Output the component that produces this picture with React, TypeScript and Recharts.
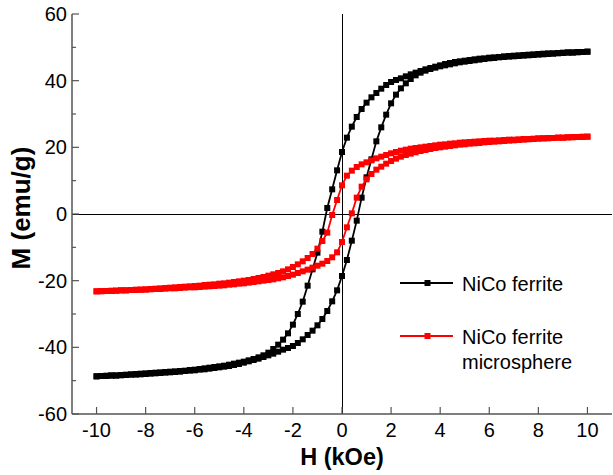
import React from "react";
import { LineChart, Line, XAxis, YAxis, ReferenceLine, Legend } from "recharts";

// applied field, kOe (sweep from +10 down to -10, 0.2 kOe steps)
const fieldDown = [
  10, 9.8, 9.6, 9.4, 9.2, 9, 8.8, 8.6, 8.4, 8.2,
  8, 7.8, 7.6, 7.4, 7.2, 7, 6.8, 6.6, 6.4, 6.2,
  6, 5.8, 5.6, 5.4, 5.2, 5, 4.8, 4.6, 4.4, 4.2,
  4, 3.8, 3.6, 3.4, 3.2, 3, 2.8, 2.6, 2.4, 2.2,
  2, 1.8, 1.6, 1.4, 1.2, 1, 0.8, 0.6, 0.4, 0.2,
  0, -0.2, -0.4, -0.6, -0.8, -1, -1.2, -1.4, -1.6, -1.8,
  -2, -2.2, -2.4, -2.6, -2.8, -3, -3.2, -3.4, -3.6, -3.8,
  -4, -4.2, -4.4, -4.6, -4.8, -5, -5.2, -5.4, -5.6, -5.8,
  -6, -6.2, -6.4, -6.6, -6.8, -7, -7.2, -7.4, -7.6, -7.8,
  -8, -8.2, -8.4, -8.6, -8.8, -9, -9.2, -9.4, -9.6, -9.8,
  -10,
];
// return sweep, -10 back up to +10
const fieldUp = [...fieldDown].reverse();

// NiCo ferrite, M (emu/g)
const ferriteDown = [
  48.7, 48.6, 48.6, 48.5, 48.5, 48.4, 48.3, 48.2, 48.2, 48.1,
  48.0, 47.9, 47.8, 47.7, 47.6, 47.5, 47.4, 47.3, 47.1, 47.0,
  46.9, 46.7, 46.6, 46.4, 46.2, 46.0, 45.8, 45.6, 45.3, 45.0,
  44.6, 44.2, 43.8, 43.4, 42.9, 42.4, 41.9, 41.3, 40.7, 40.2,
  39.6, 38.7, 37.6, 36.3, 35.0, 33.4, 31.5, 29.1, 26.2, 22.9,
  18.6, 13.1, 7.4, 1.8, -5.3, -11.6, -16.6, -21.5, -26.3, -30.0,
  -33.2, -35.8, -37.7, -39.2, -40.5, -41.6, -42.4, -43.0, -43.5, -43.9,
  -44.3, -44.6, -44.9, -45.2, -45.5, -45.7, -45.9, -46.1, -46.3, -46.5,
  -46.7, -46.8, -47.0, -47.1, -47.2, -47.3, -47.4, -47.5, -47.6, -47.7,
  -47.8, -47.9, -48.0, -48.1, -48.2, -48.3, -48.4, -48.4, -48.5, -48.6,
  -48.7,
];
const ferriteUp = [
  -48.7, -48.6, -48.6, -48.5, -48.5, -48.4, -48.3, -48.2, -48.2, -48.1,
  -48.0, -47.9, -47.8, -47.7, -47.6, -47.5, -47.4, -47.3, -47.1, -47.0,
  -46.9, -46.7, -46.6, -46.4, -46.2, -46.0, -45.8, -45.6, -45.3, -45.0,
  -44.6, -44.2, -43.8, -43.4, -42.9, -42.4, -41.9, -41.3, -40.7, -40.2,
  -39.6, -38.7, -37.6, -36.3, -35.0, -33.4, -31.5, -29.1, -26.2, -22.9,
  -18.6, -13.8, -8.0, -2.0, 4.9, 11.0, 16.4, 21.8, 26.0, 29.8,
  33.2, 35.8, 37.7, 39.2, 40.5, 41.6, 42.4, 43.0, 43.5, 43.9,
  44.3, 44.6, 44.9, 45.2, 45.5, 45.7, 45.9, 46.1, 46.3, 46.5,
  46.7, 46.8, 47.0, 47.1, 47.2, 47.3, 47.4, 47.5, 47.6, 47.7,
  47.8, 47.9, 48.0, 48.1, 48.2, 48.3, 48.4, 48.4, 48.5, 48.6,
  48.7,
];

// NiCo ferrite microsphere, M (emu/g)
const microDown = [
  23.2, 23.1, 23.1, 23.0, 23.0, 22.9, 22.9, 22.8, 22.8, 22.7,
  22.7, 22.6, 22.5, 22.5, 22.4, 22.3, 22.3, 22.2, 22.1, 22.0,
  22.0, 21.9, 21.8, 21.7, 21.6, 21.5, 21.4, 21.2, 21.1, 20.9,
  20.8, 20.6, 20.4, 20.2, 20.0, 19.8, 19.6, 19.3, 19.0, 18.6,
  18.2, 17.7, 17.2, 16.7, 16.1, 15.5, 14.9, 14.1, 13.0, 11.5,
  8.6, 4.2, -0.3, -5.6, -8.1, -10.4, -12.0, -13.2, -14.2, -15.1,
  -15.9, -16.6, -17.2, -17.7, -18.1, -18.5, -18.9, -19.2, -19.5, -19.8,
  -20.0, -20.2, -20.4, -20.6, -20.8, -20.9, -21.1, -21.2, -21.3, -21.5,
  -21.6, -21.7, -21.8, -21.9, -22.0, -22.1, -22.2, -22.3, -22.4, -22.5,
  -22.6, -22.7, -22.7, -22.8, -22.9, -22.9, -23.0, -23.1, -23.1, -23.2,
  -23.2,
];
const microUp = [
  -23.2, -23.1, -23.1, -23.0, -23.0, -22.9, -22.9, -22.8, -22.8, -22.7,
  -22.7, -22.6, -22.5, -22.5, -22.4, -22.3, -22.3, -22.2, -22.1, -22.0,
  -22.0, -21.9, -21.8, -21.7, -21.6, -21.5, -21.4, -21.2, -21.1, -20.9,
  -20.8, -20.6, -20.4, -20.2, -20.0, -19.8, -19.6, -19.3, -19.0, -18.6,
  -18.2, -17.7, -17.2, -16.7, -16.1, -15.5, -14.9, -14.1, -13.0, -11.5,
  -8.4, -4.0, 0.2, 4.9, 8.2, 10.4, 12.0, 13.3, 14.2, 15.1,
  15.9, 16.6, 17.2, 17.7, 18.1, 18.5, 18.9, 19.2, 19.5, 19.8,
  20.0, 20.2, 20.4, 20.6, 20.8, 20.9, 21.1, 21.2, 21.3, 21.5,
  21.6, 21.7, 21.8, 21.9, 22.0, 22.1, 22.2, 22.3, 22.4, 22.5,
  22.6, 22.7, 22.7, 22.8, 22.9, 22.9, 23.0, 23.1, 23.1, 23.2,
  23.2,
];

const xTicks = [-10, -8, -6, -4, -2, 0, 2, 4, 6, 8, 10];
const yTicks = [-60, -50, -40, -30, -20, -10, 0, 10, 20, 30, 40, 50, 60];

const FONT = '"Liberation Sans", Arial, sans-serif';
const AXIS = "#555";

function loop(down: number[], up: number[]) {
  return [
    ...fieldDown.map((h, i) => ({ h, m: down[i] })),
    ...fieldUp.map((h, i) => ({ h, m: up[i] })),
  ];
}

const ferriteLoop = loop(ferriteDown, ferriteUp);
const microLoop = loop(microDown, microUp);

const squareDot = (color: string) => (props: any) => {
  const { cx, cy, index } = props;
  if (cx == null || cy == null) return <g key={index} />;
  return <rect key={index} x={cx - 3} y={cy - 3} width={6} height={6} fill={color} />;
};

function BottomTick({ x, y, payload }: any) {
  return (
    <g>
      <line x1={x} y1={y} x2={x} y2={y - 7} stroke={AXIS} strokeWidth={1.2} />
      <text x={x} y={y + 23} textAnchor="middle" fontSize={20} fontFamily={FONT} fill="#000">
        {payload.value}
      </text>
    </g>
  );
}

function TopTick({ x, y }: any) {
  return <line x1={x} y1={y} x2={x} y2={y + 7} stroke={AXIS} strokeWidth={1.2} />;
}

function LeftTick({ x, y, payload }: any) {
  const major = payload.value % 20 === 0;
  return (
    <g>
      <line x1={x} y1={y} x2={x + (major ? 7 : 4)} y2={y} stroke={AXIS} strokeWidth={1.2} />
      {major && (
        <text x={x - 5} y={y + 7} textAnchor="end" fontSize={20} fontFamily={FONT} fill="#000">
          {payload.value}
        </text>
      )}
    </g>
  );
}

function RightTick({ x, y, payload }: any) {
  const major = payload.value % 20 === 0;
  return <line x1={x} y1={y} x2={x - (major ? 7 : 4)} y2={y} stroke={AXIS} strokeWidth={1.2} />;
}

function LegendBox() {
  return (
    <svg width={218} height={120} style={{ display: "block" }}>
      <line x1={5} y1={23} x2={58} y2={23} stroke="#000" strokeWidth={1.8} />
      <rect x={29.5} y={20} width={6} height={6} fill="#000" />
      <text x={67} y={31} fontSize={20} fontFamily={FONT} fill="#000">NiCo ferrite</text>
      <line x1={5} y1={76} x2={58} y2={76} stroke="#ff0000" strokeWidth={1.8} />
      <rect x={29.5} y={73} width={6} height={6} fill="#ff0000" />
      <text x={67} y={83.5} fontSize={20} fontFamily={FONT} fill="#000">NiCo ferrite</text>
      <text x={67} y={109} fontSize={20} fontFamily={FONT} fill="#000">microsphere</text>
    </svg>
  );
}

export default function App() {
  return (
    <div style={{ position: "absolute", left: 0, top: 0, background: "#fff" }}>
      <LineChart width={613} height={475} margin={{ top: 14, right: 1, bottom: 0, left: 0 }}>
        <XAxis
          xAxisId="b"
          type="number"
          dataKey="h"
          domain={[-11, 11]}
          ticks={xTicks}
          interval={0}
          height={61}
          tickSize={0}
          tickMargin={0}
          tickLine={false}
          tick={(p: any) => <BottomTick {...p} />}
          axisLine={{ stroke: AXIS, strokeWidth: 1.5 }}
          label={{
            value: "H (kOe)",
            position: "insideBottom",
            offset: 10,
            fontSize: 23.5,
            fontWeight: "bold",
            fill: "#000",
            fontFamily: FONT,
          }}
        />
        <XAxis
          xAxisId="t"
          orientation="top"
          type="number"
          dataKey="h"
          domain={[-11, 11]}
          ticks={xTicks}
          interval={0}
          height={0}
          tickSize={0}
          tickMargin={0}
          tickLine={false}
          tick={(p: any) => <TopTick {...p} />}
          axisLine={{ stroke: AXIS, strokeWidth: 1.5 }}
        />
        <YAxis
          yAxisId="l"
          type="number"
          domain={[-60, 60]}
          ticks={yTicks}
          interval={0}
          width={72}
          tickSize={0}
          tickMargin={0}
          tickLine={false}
          tick={(p: any) => <LeftTick {...p} />}
          axisLine={{ stroke: AXIS, strokeWidth: 1.5 }}
          label={{
            content: () => (
              <text
                transform="translate(29.5, 208) rotate(-90)"
                textAnchor="middle"
                fontSize={26}
                fontWeight="bold"
                fontFamily={FONT}
                fill="#000"
              >
                M (emu/g)
              </text>
            ),
          }}
        />
        <YAxis
          yAxisId="r"
          orientation="right"
          type="number"
          domain={[-60, 60]}
          ticks={yTicks}
          interval={0}
          width={0}
          tickSize={0}
          tickMargin={0}
          tickLine={false}
          tick={(p: any) => <RightTick {...p} />}
          axisLine={{ stroke: AXIS, strokeWidth: 1.5 }}
        />
        <ReferenceLine xAxisId="b" yAxisId="l" x={0} stroke="#000" strokeWidth={1} shapeRendering="crispEdges" />
        <ReferenceLine xAxisId="b" yAxisId="l" y={0} stroke="#000" strokeWidth={1} shapeRendering="crispEdges" />
        <Line
          xAxisId="b"
          yAxisId="l"
          data={ferriteLoop}
          dataKey="m"
          name="NiCo ferrite"
          type="linear"
          stroke="#000"
          strokeWidth={1.8}
          dot={squareDot("#000")}
          activeDot={false}
          isAnimationActive={false}
        />
        <Line
          xAxisId="b"
          yAxisId="l"
          data={microLoop}
          dataKey="m"
          name="NiCo ferrite microsphere"
          type="linear"
          stroke="#ff0000"
          strokeWidth={1.8}
          dot={squareDot("#ff0000")}
          activeDot={false}
          isAnimationActive={false}
        />
        <Legend
          content={() => <LegendBox />}
          layout="vertical"
          align="center"
          verticalAlign="middle"
          wrapperStyle={{ left: 395, top: 260, width: 218, height: 120 }}
        />
      </LineChart>
    </div>
  );
}
